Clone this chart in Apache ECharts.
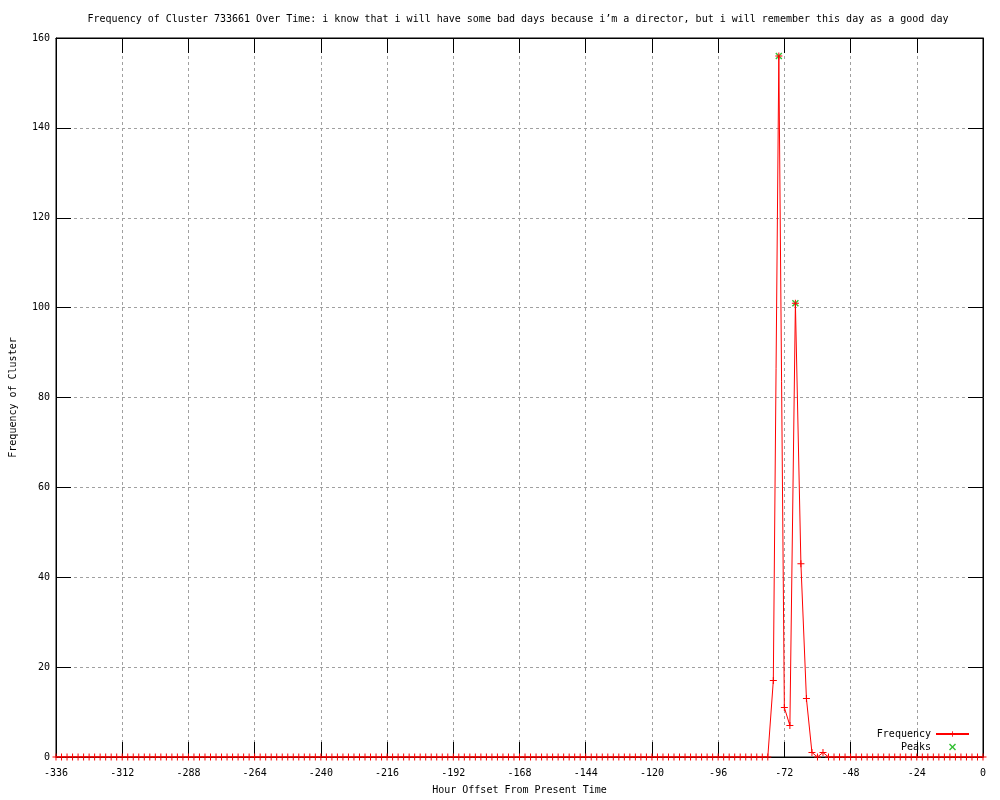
<!DOCTYPE html>
<html>
<head>
<meta charset="utf-8">
<script src="https://cdn.jsdelivr.net/npm/echarts@6/dist/echarts.min.js"></script>
<style>html,body{margin:0;padding:0;background:#fff}#c{width:1000px;height:800px}</style>
</head>
<body>
<div id="c"></div>
<script>
// Hour offsets: every 2 hours from -336 to 0
const hourStart = -336, hourStep = 2;
// Frequency values at each 2-hour step (169 points, -336 .. 0)
const frequency = [
  0,0,0,0,0,0,0,0,0,0,
  0,0,0,0,0,0,0,0,0,0,
  0,0,0,0,0,0,0,0,0,0,
  0,0,0,0,0,0,0,0,0,0,
  0,0,0,0,0,0,0,0,0,0,
  0,0,0,0,0,0,0,0,0,0,
  0,0,0,0,0,0,0,0,0,0,
  0,0,0,0,0,0,0,0,0,0,
  0,0,0,0,0,0,0,0,0,0,
  0,0,0,0,0,0,0,0,0,0,
  0,0,0,0,0,0,0,0,0,0,
  0,0,0,0,0,0,0,0,0,0,
  0,0,0,0,0,0,0,0,0,0,
  17,156,11,7,101,43,13,1,0,1,
  0,0,0,0,0,0,0,0,0,0,
  0,0,0,0,0,0,0,0,0,0,
  0,0,0,0,0,0,0,0,0
];
const peakHours = [-74, -68];
const peakValues = [156, 101];
const xTicks = [-336,-312,-288,-264,-240,-216,-192,-168,-144,-120,-96,-72,-48,-24,0];
const yTicks = [0,20,40,60,80,100,120,140,160];

const titleText = "Frequency of Cluster 733661 Over Time: i know that i will have some bad days because i\u2019m a director, but i will remember this day as a good day";

const freqData = frequency.map((v, i) => [hourStart + i * hourStep, v]);
const peakData = peakHours.map((h, i) => [h, peakValues[i]]);

const FONT = "'DejaVu Sans Mono', 'Liberation Mono', monospace";
const PLUS = 'path://M3,0H4V3H7V4H4V7H3V4H0V3H3Z';
const CROSS = 'path://M0,1L1,0L3.5,2.5L6,0L7,1L4.5,3.5L7,6L6,7L3.5,4.5L1,7L0,6L2.5,3.5Z';

const chart = echarts.init(document.getElementById('c'), null, {renderer: 'canvas'});
function axisBase() {
  return {
    type: 'value',
    axisLine: {show: true, onZero: false, lineStyle: {color: '#000', width: 1}},
    axisTick: {show: true, inside: true, length: 15, lineStyle: {color: '#000'}},
  };
}
chart.setOption({
  animation: false,
  backgroundColor: '#fff',
  title: {
    text: titleText, left: 513, top: 9, textAlign: 'center',
    textStyle: {fontFamily: FONT, fontSize: 10, fontWeight: 'normal', color: '#000'}
  },
  grid: {left: 55, right: 17, top: 38, bottom: 40, show: true, borderColor: '#000', borderWidth: 1},
  legend: {
    orient: 'vertical', right: 25, top: 724, align: 'right',
    itemWidth: 33, itemHeight: 7, itemGap: 3,
    textStyle: {fontFamily: FONT, fontSize: 10, color: '#000'},
    data: ['Frequency', 'Peaks']
  },
  xAxis: [
    Object.assign(axisBase(), {
      min: -336, max: 0, interval: 24, position: 'bottom',
      name: 'Hour Offset From Present Time', nameLocation: 'middle', nameGap: 28,
      nameTextStyle: {fontFamily: FONT, fontSize: 10, color: '#000'},
      axisLabel: {fontFamily: FONT, fontSize: 10, color: '#000', margin: 11},
      splitLine: {show: true, lineStyle: {color: '#a0a0a0', type: [3, 3], width: 1}}
    }),
    Object.assign(axisBase(), {
      min: -336, max: 0, interval: 24, position: 'top',
      axisLabel: {show: false}, splitLine: {show: false}
    })
  ],
  yAxis: [
    Object.assign(axisBase(), {
      min: 0, max: 160, interval: 20, position: 'left',
      name: 'Frequency of Cluster', nameLocation: 'middle', nameGap: 38,
      nameTextStyle: {fontFamily: FONT, fontSize: 10, color: '#000'},
      axisLabel: {fontFamily: FONT, fontSize: 10, color: '#000', margin: 6},
      splitLine: {show: true, lineStyle: {color: '#a0a0a0', type: [3, 3], width: 1}}
    }),
    Object.assign(axisBase(), {
      min: 0, max: 160, interval: 20, position: 'right',
      axisLabel: {show: false}, splitLine: {show: false}
    })
  ],
  series: [
    {
      name: 'Frequency', type: 'line', data: freqData,
      symbol: PLUS, symbolSize: 7, showSymbol: true,
      lineStyle: {color: '#ff0000', width: 1},
      itemStyle: {color: '#ff0000'},
      z: 3
    },
    {
      name: 'Peaks', type: 'scatter', data: peakData,
      symbol: CROSS, symbolSize: 7,
      itemStyle: {color: '#00b000'},
      z: 2
    }
  ]
});
</script>
</body>
</html>
